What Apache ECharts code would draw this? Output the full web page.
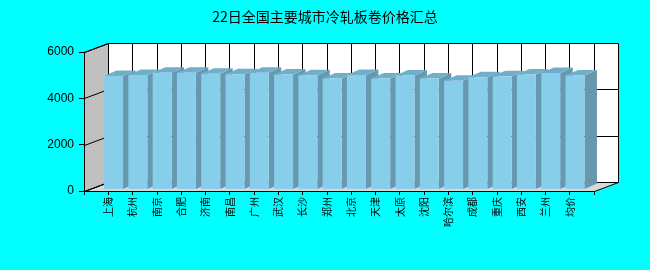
<!DOCTYPE html>
<html>
<head>
<meta charset="utf-8">
<script src="https://cdn.jsdelivr.net/npm/echarts@6/dist/echarts.min.js"></script>
<style>
html,body{margin:0;padding:0;background:#00FFFF;}
#chart{width:650px;height:270px;}
</style>
</head>
<body>
<div id="chart"></div>
<script>
const titleText = '22日全国主要城市冷轧板卷价格汇总';
const categories = ['上海','杭州','南京','合肥','济南','南昌','广州','武汉','长沙','郑州','北京','天津','太原','沈阳','哈尔滨','成都','重庆','西安','兰州','均价'];
const prices = [4880,4920,5020,5020,4980,4950,5020,4940,4910,4770,4920,4770,4900,4770,4670,4820,4870,4940,5010,4900];
const yMin = 0, yMax = 6000, yInterval = 2000;
const yTickValues = [0, 2000, 4000, 6000];

const axisCats = [''].concat(categories, ['']);
const lastIdx = axisCats.length - 1;
const DEPTH = [24, -9];
const BAR_FRONT = 0.22;
const BAR_DEPTH = [12.5, -5.5];

function crisp(v) { return Math.round(v) + 0.5; }
const lineStyle = { stroke: '#000', lineWidth: 1 };

function renderWalls(params, api) {
  const o = api.coord([0, yMin]);
  const t = api.coord([lastIdx, yMax]);
  const dx = DEPTH[0], dy = DEPTH[1];
  const x0 = crisp(o[0]), y0 = crisp(o[1]), x1 = crisp(t[0]), y1 = crisp(t[1]);
  const children = [];
  children.push({ type: 'polygon', shape: { points: [[x0, y0], [x1, y0], [x1 + dx, y0 + dy], [x0 + dx, y0 + dy]] }, style: { fill: '#D8D8D8', stroke: '#000', lineWidth: 1 } });
  children.push({ type: 'polygon', shape: { points: [[x0, y0], [x0, y1], [x0 + dx, y1 + dy], [x0 + dx, y0 + dy]] }, style: { fill: '#C0C0C0', stroke: '#000', lineWidth: 1 } });
  children.push({ type: 'rect', shape: { x: x0 + dx, y: y1 + dy, width: x1 - x0, height: y0 - y1 }, style: { fill: '#FFFFFF', stroke: '#000', lineWidth: 1 } });
  yTickValues.forEach(function (v) {
    const yv = crisp(api.coord([0, v])[1]);
    children.push({ type: 'line', shape: { x1: x0, y1: yv, x2: x0 + dx, y2: yv + dy }, style: lineStyle });
    if (v > yMin && v < yMax) {
      children.push({ type: 'line', shape: { x1: x0 + dx, y1: yv + dy, x2: x1 + dx, y2: yv + dy }, style: lineStyle });
    }
  });
  for (let i = 1; i < lastIdx; i++) {
    const xv = crisp(api.coord([i, yMin])[0]);
    children.push({ type: 'line', shape: { x1: xv + dx, y1: y1 + dy, x2: xv + dx, y2: y0 + dy }, style: lineStyle });
  }
  return { type: 'group', children: children };
}

function renderBar(params, api) {
  const idx = api.value(0), v = api.value(1);
  const base = api.coord([idx, yMin]);
  const top = api.coord([idx, v]);
  const slot = api.size([1, 0])[0];
  const w = slot * 0.78;
  const sx = DEPTH[0] * BAR_FRONT, sy = DEPTH[1] * BAR_FRONT;
  const L = base[0] - w / 2 + sx, R = L + w;
  const B = base[1] + sy, T = top[1] + sy;
  const bx = BAR_DEPTH[0], by = BAR_DEPTH[1];
  return {
    type: 'group',
    children: [
      { type: 'polygon', shape: { points: [[R, T], [R + bx, T + by], [R + bx, B + by], [R, B]] }, style: { fill: '#6699B0' } },
      { type: 'polygon', shape: { points: [[L, T], [R, T], [R + bx, T + by], [L + bx, T + by]] }, style: { fill: '#70AFC9' } },
      { type: 'rect', shape: { x: L, y: T, width: w, height: B - T }, style: { fill: '#87CEEB' } }
    ]
  };
}

const chart = echarts.init(document.getElementById('chart'), null, { renderer: 'canvas' });
chart.setOption({
  animation: false,
  backgroundColor: '#00FFFF',
  title: {
    text: titleText,
    left: 'center',
    top: 5,
    textStyle: { fontSize: 14, fontWeight: 'normal', color: '#000', fontFamily: 'Noto Sans CJK SC' }
  },
  grid: { left: 84, right: 56, top: 52, bottom: 79 },
  xAxis: {
    type: 'category',
    data: axisCats,
    boundaryGap: false,
    z: 10,
    axisLine: { show: true, lineStyle: { color: '#000', width: 1 } },
    axisTick: { show: true, length: 4, interval: 0, lineStyle: { color: '#000' } },
    axisLabel: { interval: 0, rotate: 90, fontSize: 10, color: '#000', margin: 6, fontFamily: 'Noto Sans CJK SC' },
    splitLine: { show: false }
  },
  yAxis: {
    type: 'value',
    min: yMin,
    max: yMax,
    interval: yInterval,
    z: 10,
    axisLine: { show: true, lineStyle: { color: '#000', width: 1 } },
    axisTick: { show: true, length: 5, lineStyle: { color: '#000' } },
    axisLabel: { fontSize: 12, color: '#000', margin: 10, fontFamily: 'Liberation Sans', formatter: function (v) { return String(v); } },
    splitLine: { show: false }
  },
  series: [
    { type: 'custom', name: 'walls', renderItem: renderWalls, data: [[0, 0]], z: 1, silent: true },
    { type: 'custom', name: '价格', renderItem: renderBar, data: prices.map(function (p, i) { return [i + 1, p]; }), z: 2 }
  ]
});
</script>
</body>
</html>
